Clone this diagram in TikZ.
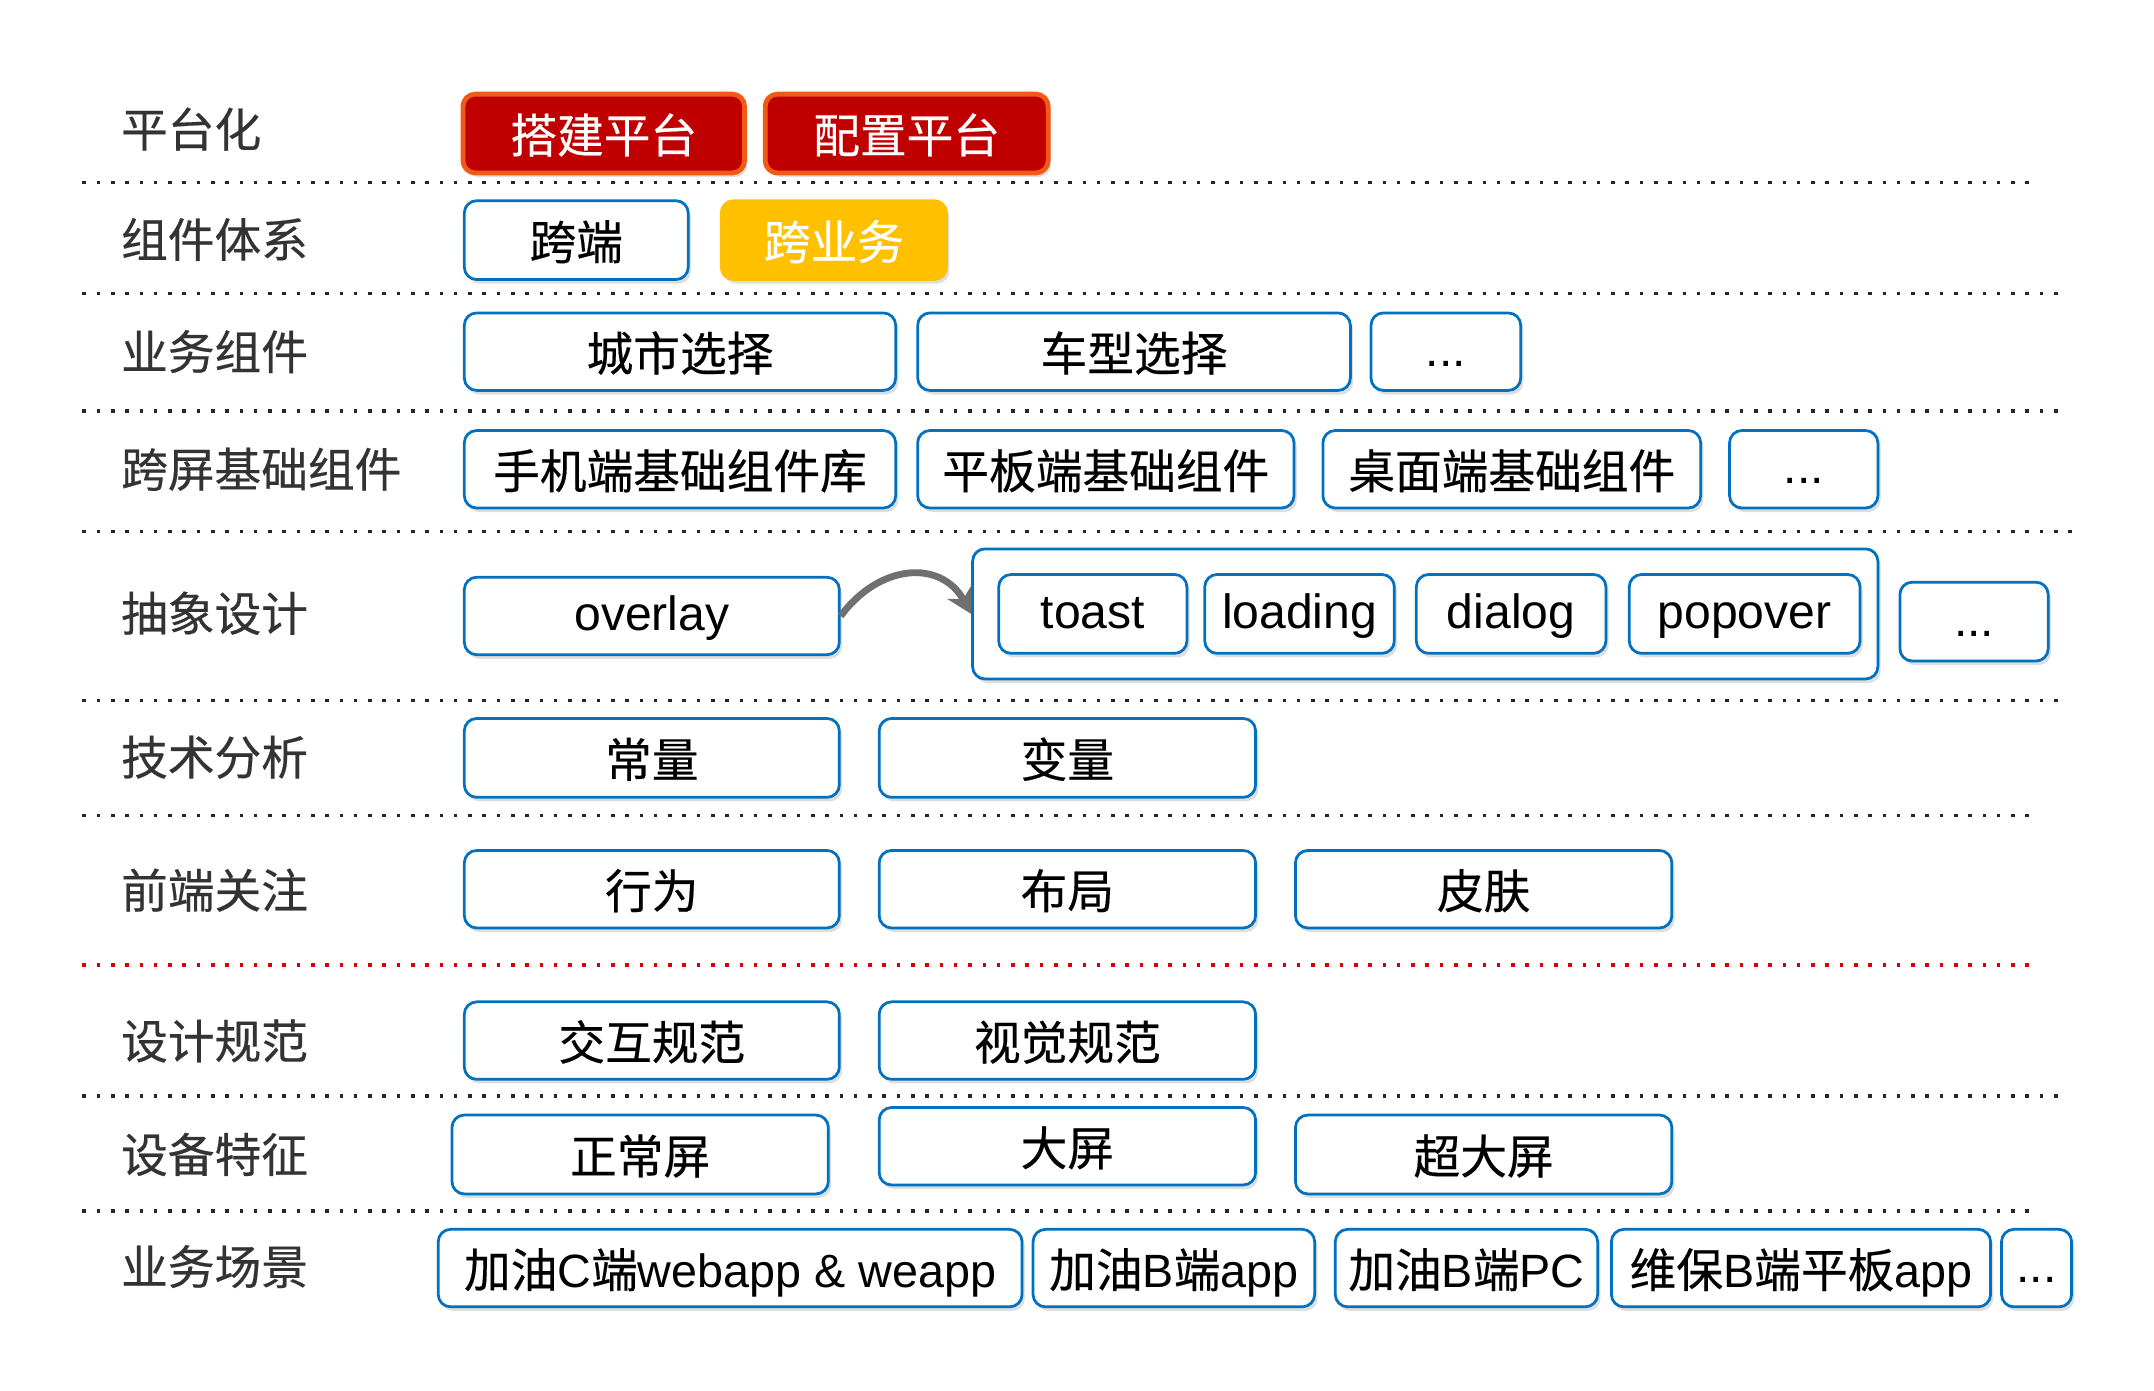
\documentclass[tikz,border=0pt]{standalone}
\usepackage{fontspec}
\setmainfont{Liberation Sans}
\newfontfamily\cjk[FakeBold=0.4]{Noto Sans CJK SC}
\usetikzlibrary{shadows,arrows.meta}
\definecolor{bblue}{HTML}{0070C0}
\definecolor{dred}{HTML}{C00000}
\definecolor{rorange}{HTML}{F05A14}
\definecolor{gold}{HTML}{FFC000}
\definecolor{lblgray}{HTML}{333333}
\definecolor{arrgray}{HTML}{707070}
\newcommand\zh[1]{{\cjk #1}}
\newcommand\bx[6]{\node[#1, minimum width=#4pt, minimum height=#5pt] (#2) at (#3) {#6};}
\begin{document}
\begin{tikzpicture}[x=1pt,y=-1pt,
  box/.style={draw=bblue, line width=2pt, rounded corners=9pt, fill=white,
    drop shadow={shadow xshift=2pt, shadow yshift=-3pt, fill=black!13, opacity=1},
    font=\fontsize{34}{40}\selectfont, text=black, inner sep=0pt,
    text height=30pt, text depth=2pt},
  lat/.style={box, font=\fontsize{35}{40}\selectfont, text height=27pt, text depth=6pt},
  redbox/.style={box, draw=rorange, line width=3.5pt, fill=dred, text=white},
  yelbox/.style={box, draw=gold, fill=gold, text=white},
  lbl/.style={anchor=west, inner sep=0pt, text=lblgray, font=\cjk\fontsize{34}{40}\selectfont},
  dotline/.style={line width=2.6pt, dash pattern=on 2.6pt off 7.8pt, black!85},
  reddot/.style={dotline, red!85!black},
  arr/.style={line width=5pt, arrgray, -{Stealth[length=18pt, width=20pt]}}
]
\useasboundingbox (0,0) rectangle (1568,1011.85);

% separators
\draw[dotline] (60,133) -- (1481,133);
\draw[dotline] (60,213.6) -- (1500,213.6);
\draw[dotline] (60,299.3) -- (1500,299.3);
\draw[dotline] (60,387) -- (1510,387);
\draw[dotline] (60,510) -- (1500,510);
\draw[dotline] (60,593.5) -- (1481,593.5);
\draw[reddot] (60,702.4) -- (1481,702.4);
\draw[dotline] (60,798) -- (1500,798);
\draw[dotline] (60,881.7) -- (1481,881.7);

% row labels
\node[lbl] (l1) at (88,94) {平台化};
\node[lbl] (l2) at (88,174.3) {组件体系};
\node[lbl] (l3) at (88,256) {业务组件};
\node[lbl] (l4) at (88,341.6) {跨屏基础组件};
\node[lbl] (l5) at (88,446.4) {抽象设计};
\node[lbl] (l6) at (88,551.2) {技术分析};
\node[lbl] (l7) at (88,648) {前端关注};
\node[lbl] (l8) at (88,757.8) {设计规范};
\node[lbl] (l9) at (88,840.4) {设备特征};
\node[lbl] (l10) at (88,922) {业务场景};

% row 1
\bx{redbox}{dj}{439.5,97.2}{205}{57.4}{\zh{搭建平台}}
\bx{redbox}{pz}{660,97.2}{206}{57.4}{\zh{配置平台}}
% row 2
\bx{box}{kd}{419.5,174.8}{163}{57.4}{\zh{跨端}}
\bx{yelbox}{kyw}{607,174.8}{164}{57.4}{\zh{跨业务}}
% row 3
\bx{box}{cs}{495,256}{314}{56.4}{\zh{城市选择}}
\bx{box}{cx}{825.5,256}{315}{56.4}{\zh{车型选择}}
\bx{lat}{e3}{1052.5,256}{109}{56.4}{...}
% row 4
\bx{box}{sj}{495,341.6}{314}{56.4}{\zh{手机端基础组件库}}
\bx{box}{pb}{805,341.6}{274}{56.4}{\zh{平板端基础组件}}
\bx{box}{zm}{1100.5,341.6}{275}{56.4}{\zh{桌面端基础组件}}
\bx{lat}{e4}{1313,341.6}{108}{56.4}{...}
% row 5
\bx{lat}{ov}{474.5,448.4}{273}{56.4}{overlay}
\bx{box}{cont}{1037.5,446.9}{659}{94.7}{}
\bx{lat}{toast}{795.5,446.9}{137}{57.4}{toast}
\bx{lat}{loading}{946,446.9}{138}{57.4}{loading}
\bx{lat}{dialog}{1100,446.9}{138}{57.4}{dialog}
\bx{lat}{popover}{1270,446.9}{168}{57.4}{popover}
\bx{lat}{e5}{1437,452.5}{108}{57.4}{...}
\draw[arr] (ov.east) .. controls +(28,-38) and +(-22,-40) .. (cont.west);
% row 6
\bx{box}{cl}{474.5,551.7}{273}{57.4}{\zh{常量}}
\bx{box}{bl}{777,551.7}{274}{57.4}{\zh{变量}}
% row 7
\bx{box}{xw}{474.5,647.3}{273}{56.4}{\zh{行为}}
\bx{box}{bj}{777,647.3}{274}{56.4}{\zh{布局}}
\bx{box}{pf}{1080,647.3}{274}{56.4}{\zh{皮肤}}
% row 8
\bx{box}{jh}{474.5,757.5}{273}{56.4}{\zh{交互规范}}
\bx{box}{sjgf}{777,757.5}{274}{56.4}{\zh{视觉规范}}
% row 9
\bx{box}{zcp}{466,840.4}{274}{57.4}{\zh{正常屏}}
\bx{box}{dp}{777,834.4}{274}{56.4}{\zh{大屏}}
\bx{box}{cdp}{1080,840.4}{274}{57.4}{\zh{超大屏}}
% row 10
\bx{box}{s1}{531.5,923.1}{425}{56.4}{\zh{加油}C\zh{端}webapp \& weapp}
\bx{box}{s2}{854.5,923.1}{205}{56.4}{\zh{加油}B\zh{端}app}
\bx{box}{s3}{1067.5,923.1}{191}{56.4}{\zh{加油}B\zh{端}PC}
\bx{box}{s4}{1311,923.1}{276}{56.4}{\zh{维保}B\zh{端平板}app}
\bx{lat}{e10}{1482.5,923.1}{51}{56.4}{...}
\end{tikzpicture}
\end{document}
